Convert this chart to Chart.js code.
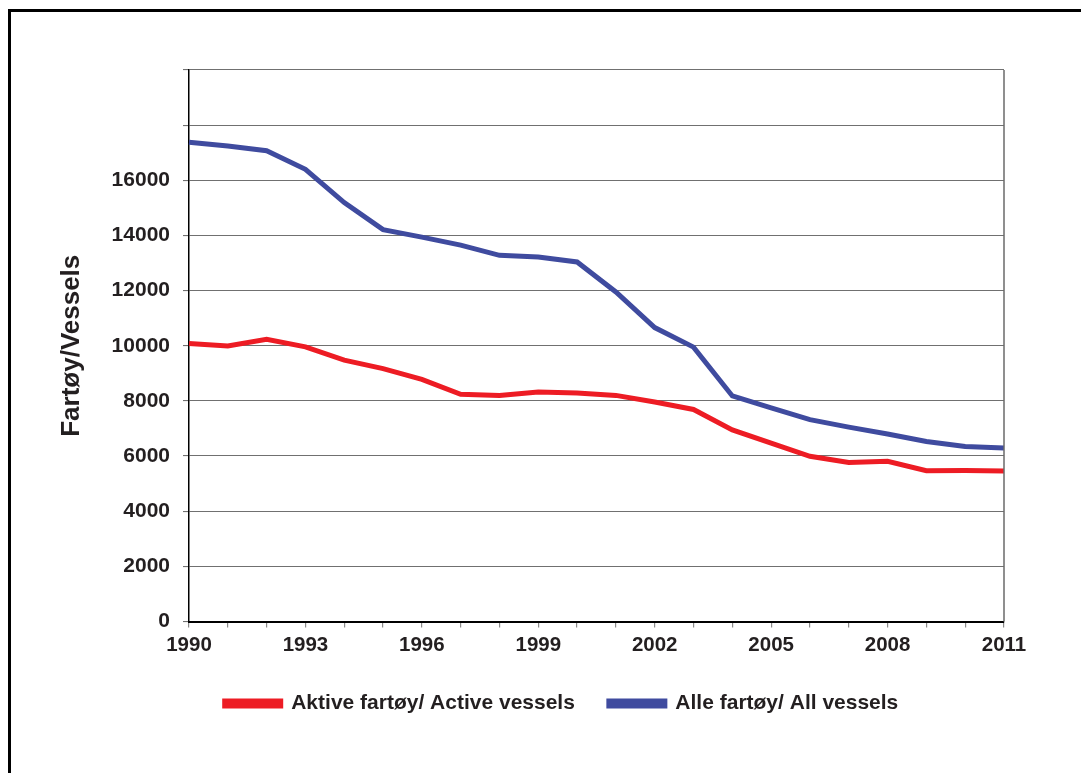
<!DOCTYPE html>
<html>
<head>
<meta charset="utf-8">
<script src="https://cdn.jsdelivr.net/npm/chart.js@4"></script>
<style>
  html, body { margin: 0; padding: 0; background: #fff; }
  #wrap { position: relative; width: 1081px; height: 773px; overflow: hidden; }
  #frame { position: absolute; left: 8px; top: 9px; width: 1200px; height: 900px;
           border-left: 3px solid #000; border-top: 3px solid #000; pointer-events: none; }
</style>
</head>
<body>
<div id="wrap">
  <canvas id="c" width="1081" height="773"></canvas>
  <div id="frame"></div>
</div>
<script>
const years = ['1990','1991','1992','1993','1994','1995','1996','1997','1998','1999','2000',
               '2001','2002','2003','2004','2005','2006','2007','2008','2009','2010','2011'];
const activeVessels = [10080, 9990, 10230, 9960, 9480, 9170, 8780, 8240, 8200, 8320, 8290,
                       8200, 7960, 7690, 6950, 6470, 5990, 5770, 5810, 5470, 5480, 5460];
const allVessels = [17380, 17240, 17070, 16400, 15190, 14210, 13940, 13650, 13280, 13220, 13040,
                    11950, 10660, 9950, 8180, 7750, 7320, 7050, 6800, 6530, 6350, 6290];
const xTickLabels = ['1990','1993','1996','1999','2002','2005','2008','2011'];
const yTickLabels = [0, 2000, 4000, 6000, 8000, 10000, 12000, 14000, 16000];
const seriesNames = ['Aktive fartøy/ Active vessels', 'Alle fartøy/ All vessels'];
const yTitle = 'Fartøy/Vessels';

const FONT = '"Liberation Sans", Arial, Helvetica, sans-serif';
const TXT = '#231F20';

const rightBorder = {
  id: 'rightBorder',
  afterLayout(chart) {
    // shift the legend block so it is centred like the reference
    const lg = chart.legend;
    if (lg) { lg.left += 32; lg.right += 32; }
  },
  afterDatasetsDraw(chart) {
    const {ctx, chartArea} = chart;
    ctx.save();
    ctx.strokeStyle = '#6a6a6a';
    ctx.lineWidth = 1.5;
    ctx.beginPath();
    ctx.moveTo(chartArea.right, chartArea.top);
    ctx.lineTo(chartArea.right, chartArea.bottom);
    ctx.stroke();
    ctx.restore();
  }
};

new Chart(document.getElementById('c'), {
  type: 'line',
  data: {
    labels: years,
    datasets: [
      { label: seriesNames[0], data: activeVessels, borderColor: '#ED1C24', backgroundColor: '#ED1C24',
        borderWidth: 5, pointRadius: 0, tension: 0, fill: false },
      { label: seriesNames[1], data: allVessels, borderColor: '#3F4B9F', backgroundColor: '#3F4B9F',
        borderWidth: 5, pointRadius: 0, tension: 0, fill: false }
    ]
  },
  options: {
    responsive: false,
    animation: false,
    events: [],
    layout: { padding: { left: 55, right: 77, top: 70, bottom: 49 } },
    plugins: {
      legend: {
        position: 'bottom',
        labels: {
          boxWidth: 56, boxHeight: 5, padding: 34,
          color: TXT,
          font: { family: FONT, size: 21, weight: 'bold' }
        }
      },
      tooltip: { enabled: false }
    },
    scales: {
      x: {
        type: 'category',
        offset: false,
        afterFit(scale) { scale.height = 37.5; },
        grid: { drawOnChartArea: false, drawTicks: true, tickLength: 6, color: '#8a8a8a', lineWidth: 1.2 },
        border: { display: true, color: '#000', width: 2 },
        ticks: {
          autoSkip: false, maxRotation: 0, padding: 6,
          color: TXT,
          font: { family: FONT, size: 20.5, weight: 'bold' },
          callback(v, i) { const l = years[i]; return xTickLabels.includes(l) ? l : ''; }
        }
      },
      y: {
        min: 0, max: 20000,
        afterFit(scale) { scale.width = 134; },
        grid: { color: '#707070', lineWidth: 1.1, tickLength: 6 },
        border: { display: true, color: '#000', width: 1.5 },
        ticks: {
          stepSize: 2000, padding: 13,
          color: TXT,
          font: { family: FONT, size: 21, weight: 'bold' },
          callback(v) { return yTickLabels.includes(v) ? String(v) : ''; }
        },
        title: {
          display: true, text: yTitle, color: TXT,
          font: { family: FONT, size: 26, weight: 'bold' },
          padding: { top: 1, bottom: 0 }
        }
      }
    }
  },
  plugins: [rightBorder]
});
</script>
</body>
</html>
